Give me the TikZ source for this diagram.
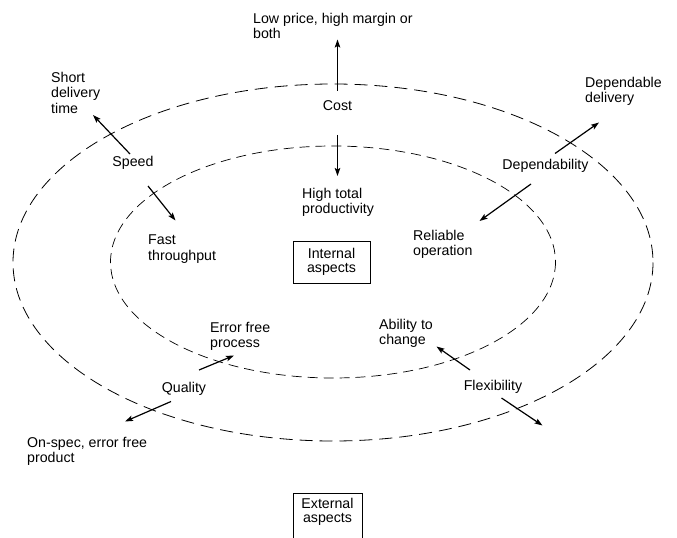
\documentclass[tikz,border=0pt]{standalone}
\usepackage{fontspec}
\setmainfont{Liberation Sans}
\usetikzlibrary{arrows.meta}
\begin{document}
\begin{tikzpicture}[x=1bp,y=-1bp,
  lbl/.style={font=\fontsize{14.2bp}{15.5bp}\selectfont, inner sep=0pt},
  note/.style={lbl, align=left, anchor=north west},
  head/.style={lbl, anchor=base},
  aspectbox/.style={draw, line width=0.9bp, align=center,
    font=\fontsize{14.2bp}{13.5bp}\selectfont, inner xsep=0pt, minimum width=#1},
  ring/.style={line width=0.8bp, dash pattern=on 13bp off 7bp},
  innerring/.style={line width=0.7bp, dash pattern=on 10bp off 6bp},
  arr/.style={line width=1.2bp, -{Stealth[length=8bp,width=5.5bp,inset=1.5bp]}}]
\useasboundingbox (0,0) rectangle (677,538);

% the two zones
\draw[ring] (333,262.5) ellipse [x radius=320, y radius=178.5];
\draw[innerring] (333,262) ellipse [x radius=222.5, y radius=116];

% performance objectives
\node[head] (cost)  at (337.5,111)   {Cost};
\node[head] (speed) at (133,167)     {Speed};
\node[head] (dep)   at (545.5,169.5) {Dependability};
\node[head] (qual)  at (184,392.5)   {Quality};
\node[head] (flex)  at (493,390.5)   {Flexibility};

% external effects
\node[note] (lowprice) at (253,13)  {Low price, high margin or\\both};
\node[note] (shortdel) at (51,72)   {Short\\delivery\\time};
\node[note] (depdel)   at (585,77)  {Dependable\\delivery};
\node[note] (onspec)   at (27,437)  {On-spec, error free\\product};

% internal effects
\node[note] (hightot)  at (302,188) {High total\\productivity};
\node[note] (fast)     at (148,235) {Fast\\throughput};
\node[note] (reliable) at (413,230) {Reliable\\operation};
\node[note] (errfree)  at (210,322) {Error free\\process};
\node[note] (ability)  at (379,319) {Ability to\\change};

% zone labels
\node[aspectbox=77bp, minimum height=42bp] (internal) at (331.5,262) {Internal\\aspects};
\node[aspectbox=69bp, anchor=north, inner ysep=5bp, text depth=30bp] (external)
  at (327.5,493) {External\\aspects};

% arrow end points
\coordinate (costA) at (337.5,91);   \coordinate (costB) at (337.5,39.5);
\coordinate (costC) at (337.5,135);  \coordinate (costD) at (337.5,176);
\coordinate (spdA)  at (130,154);    \coordinate (spdB)  at (93,115);
\coordinate (spdC)  at (148,186);    \coordinate (spdD)  at (175.5,220.5);
\coordinate (depA)  at (555,153.5);  \coordinate (depB)  at (599,122.5);
\coordinate (depC)  at (531,184);    \coordinate (depD)  at (479.5,221);
\coordinate (qualA) at (199,370);    \coordinate (qualB) at (234,355.5);
\coordinate (qualC) at (171,401.5);  \coordinate (qualD) at (125,421.5);
\coordinate (flexA) at (470,370);    \coordinate (flexB) at (436.5,346.5);
\coordinate (flexC) at (501.5,398);  \coordinate (flexD) at (542.5,425.5);

\draw[arr] (costA) -- (costB);
\draw[arr] (costC) -- (costD);
\draw[arr] (spdA) -- (spdB);
\draw[arr] (spdC) -- (spdD);
\draw[arr] (depA) -- (depB);
\draw[arr] (depC) -- (depD);
\draw[arr] (qualA) -- (qualB);
\draw[arr] (qualC) -- (qualD);
\draw[arr] (flexA) -- (flexB);
\draw[arr] (flexC) -- (flexD);
\end{tikzpicture}
\end{document}
